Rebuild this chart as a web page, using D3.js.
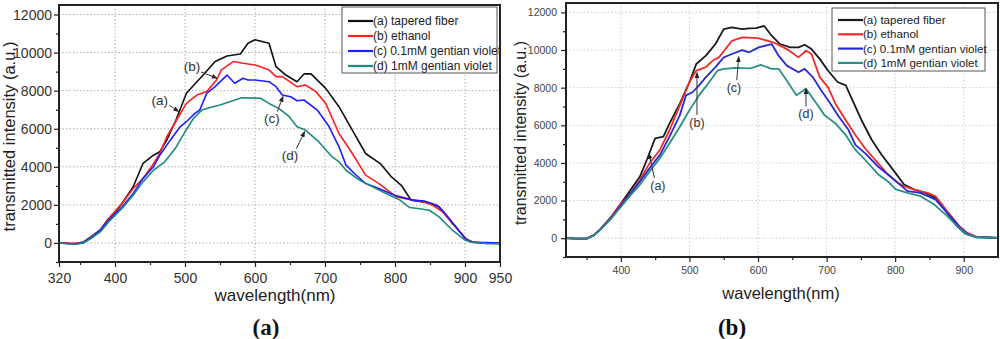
<!DOCTYPE html>
<html>
<head>
<meta charset="utf-8">
<script src="https://cdn.jsdelivr.net/npm/d3@7"></script>
<style>
  body { margin: 0; background: #fff; }
</style>
</head>
<body>
<script>
// ---- data, [wavelength nm, intensity a.u.] ----
const leftTapered = [[320,0],[335,-30],[345,-30],[355,50],[365,300],[379,680],[390,1250],[396,1400],[410,2070],[426,2950],[440,4175],[455,4610],[464,4790],[474,5400],[488,6540],[502,7860],[517,8470],[526,8820],[543,9530],[560,9820],[579,9930],[590,10490],[600,10670],[610,10580],[620,10490],[630,9260],[644,8820],[660,8470],[670,8880],[680,8880],[701,8120],[720,7160],[739,5930],[758,4700],[779,4170],[795,3470],[809,3030],[823,2250],[840,2160],[863,1900],[882,1020],[901,230],[910,50],[925,0],[950,-30]];
const leftEthanol = [[320,0],[335,-20],[345,-20],[355,40],[365,280],[379,670],[393,1370],[410,2070],[426,2860],[440,3390],[452,4000],[464,4700],[474,5580],[488,6460],[502,7330],[517,7770],[531,7950],[545,8560],[552,9090],[569,9530],[583,9440],[600,9350],[610,9230],[620,9090],[630,8740],[639,8740],[660,8210],[672,8300],[687,7950],[701,7330],[720,5750],[739,4700],[758,3560],[777,3120],[802,2420],[826,2250],[842,2160],[854,1980],[868,1630],[887,840],[901,230],[910,50],[930,-20],[950,-30]];
const leftViolet01 = [[320,0],[335,-30],[345,-40],[355,30],[365,260],[379,670],[393,1280],[410,1890],[426,2600],[440,3390],[455,4000],[464,4610],[479,5400],[493,6100],[502,6370],[514,6810],[521,6980],[531,7860],[543,8210],[560,8820],[571,8390],[583,8650],[590,8560],[600,8560],[620,8470],[630,8210],[639,7770],[651,7680],[660,7470],[670,7510],[689,6980],[706,6100],[720,5050],[730,4090],[742,3650],[758,3120],[777,2860],[799,2510],[826,2250],[842,2200],[859,2000],[868,1700],[887,850],[901,200],[912,30],[930,20],[950,0]];
const leftViolet1 = [[320,0],[335,-50],[345,-60],[355,0],[365,220],[379,580],[393,1190],[410,1810],[426,2510],[440,3210],[455,3820],[471,4260],[486,4960],[500,5840],[512,6540],[524,6980],[536,7120],[550,7250],[564,7420],[581,7630],[608,7600],[620,7330],[634,7070],[649,6630],[660,6100],[672,5930],[691,5320],[710,4530],[720,4260],[730,3820],[749,3300],[768,2950],[787,2600],[807,2250],[821,1860],[835,1800],[849,1720],[863,1370],[882,670],[899,175],[908,50],[930,-30],[950,-40]];

const rightTapered = [[320,0],[335,-20],[350,-20],[360,150],[370,470],[385,1090],[399,1790],[413,2500],[428,3290],[438,4170],[450,5310],[462,5400],[471,6100],[486,7150],[500,8300],[510,9260],[524,9700],[538,10320],[550,11110],[562,11200],[577,11110],[587,11150],[597,11160],[609,11280],[620,10760],[632,10320],[647,10140],[659,10140],[668,10280],[678,10050],[690,9530],[702,8910],[716,8300],[728,8120],[740,7150],[751,6270],[766,5220],[780,4450],[799,3540],[813,2850],[828,2580],[842,2440],[859,2140],[876,1350],[890,640],[902,250],[917,70],[950,20]];
const rightEthanol = [[320,0],[335,-20],[350,-20],[360,150],[370,470],[385,1090],[399,1790],[413,2320],[428,3110],[442,3990],[457,4690],[471,5750],[486,7060],[500,8300],[510,8910],[524,9090],[534,9440],[543,9610],[562,10490],[577,10670],[600,10630],[623,10400],[642,10050],[659,9610],[670,9960],[678,9790],[690,8560],[702,8030],[713,7150],[728,6270],[742,5480],[756,4780],[775,3990],[790,3370],[804,2940],[813,2760],[828,2580],[847,2410],[859,2230],[876,1430],[893,670],[905,280],[919,70],[950,20]];
const rightViolet01 = [[320,0],[335,-20],[350,-20],[360,140],[370,470],[385,1040],[399,1700],[413,2320],[428,3020],[442,3730],[457,4430],[471,5400],[486,6540],[495,7590],[505,7770],[514,8120],[524,8560],[538,9090],[550,9610],[562,9790],[577,10000],[587,9880],[601,10140],[620,10320],[630,9700],[642,9170],[659,8820],[668,9000],[680,8560],[692,7860],[704,7240],[718,6450],[732,5750],[742,4960],[756,4520],[775,3810],[790,3370],[804,2940],[818,2500],[837,2410],[859,2050],[876,1350],[895,550],[907,190],[919,50],[950,20]];
const rightViolet1 = [[320,0],[335,-20],[350,-20],[360,130],[370,440],[385,1000],[399,1620],[413,2230],[428,2850],[442,3550],[457,4250],[471,5040],[486,5920],[500,6800],[514,7590],[529,8300],[541,8910],[550,9000],[567,9050],[589,9030],[604,9210],[620,9000],[630,9000],[642,8380],[656,7590],[670,7940],[682,7330],[697,6540],[713,6100],[728,5480],[742,4690],[756,4170],[775,3400],[790,3000],[801,2600],[818,2410],[837,2230],[857,1790],[876,1170],[893,550],[905,195],[919,50],[950,20]];

const seriesNames = ["(a) tapered fiber", "(b) ethanol", "(c) 0.1mM gentian violet", "(d) 1mM gentian violet"];
const leftXTicks = [320, 400, 500, 600, 700, 800, 900, 950];
const rightXTicks = [400, 500, 600, 700, 800, 900];
const minorXTicks = [350, 450, 550, 650, 750, 850];
const gridXTicks = [400, 500, 600, 700, 800, 900];
const yTicks = [0, 2000, 4000, 6000, 8000, 10000, 12000];
const minorYTicks = [-1000, 1000, 3000, 5000, 7000, 9000, 11000];
const xTitle = "wavelength(nm)";
const yTitle = "transmitted intensity (a.u.)";

// arrow notes: label position, arrow start, arrow tip (data coords)
const leftNotes = [
  { label: "(a)", at: [464, 7490], from: [478, 7230], to: [491, 6900] },
  { label: "(b)", at: [510, 9280], from: [523, 8980], to: [546, 8650] },
  { label: "(c)", at: [624, 6550], from: [632, 6900], to: [640, 7700] },
  { label: "(d)", at: [650, 4610], from: [659, 4950], to: [671, 5850] },
];
const rightNotes = [
  { label: "(a)", at: [454, 2820], from: [449, 3200], to: [441, 4500] },
  { label: "(b)", at: [511, 6150], from: [511, 6550], to: [511, 8800] },
  { label: "(c)", at: [565, 8000], from: [569, 8400], to: [572, 9650] },
  { label: "(d)", at: [670, 6630], from: [670, 7000], to: [670, 7950] },
];

const FONT = "'Liberation Sans', Arial, sans-serif";

const svg = d3.select("body").append("svg")
  .attr("width", 1000)
  .attr("height", 339)
  .style("display", "block");

const defs = svg.append("defs");
defs.append("marker")
  .attr("id", "head")
  .attr("viewBox", "0 0 10 10")
  .attr("refX", 9).attr("refY", 5)
  .attr("markerWidth", 6).attr("markerHeight", 6)
  .attr("markerUnits", "userSpaceOnUse")
  .attr("orient", "auto")
  .append("path").attr("d", "M0,1L10,5L0,9Z").attr("fill", "#222");

const drawPanel = (p) => {
  const x = d3.scaleLinear().domain([320, 950]).range([p.left, p.right]);
  const y = d3.scaleLinear().domain([-1000, 12500]).range([p.bottom, p.top]);
  const g = svg.append("g");

  defs.append("clipPath").attr("id", p.id + "-clip")
    .append("rect")
    .attr("x", p.left).attr("y", p.top)
    .attr("width", p.right - p.left).attr("height", p.bottom - p.top);

  // dotted grid
  g.append("g").selectAll("line").data(gridXTicks).join("line")
    .attr("x1", (d) => x(d)).attr("x2", (d) => x(d))
    .attr("y1", p.top).attr("y2", p.bottom)
    .attr("stroke", p.gridColor).attr("stroke-dasharray", "1.5,2");
  g.append("g").selectAll("line").data(yTicks).join("line")
    .attr("x1", p.left).attr("x2", p.right)
    .attr("y1", (d) => y(d)).attr("y2", (d) => y(d))
    .attr("stroke", p.gridColor).attr("stroke-dasharray", "1.5,2");

  // axes
  const xAxis = g.append("g")
    .attr("transform", `translate(0,${p.bottom})`)
    .call(d3.axisBottom(x).tickValues(p.xTicks).tickSize(5).tickSizeOuter(0).tickFormat(d3.format("d")));
  g.append("g")
    .attr("transform", `translate(0,${p.bottom})`)
    .call(d3.axisBottom(x).tickValues(minorXTicks).tickSize(3).tickFormat("").tickSizeOuter(0));
  const yAxis = g.append("g")
    .attr("transform", `translate(${p.left},0)`)
    .call(d3.axisLeft(y).tickValues(yTicks).tickSize(5).tickSizeOuter(0).tickFormat(d3.format("d")));
  g.append("g")
    .attr("transform", `translate(${p.left},0)`)
    .call(d3.axisLeft(y).tickValues(minorYTicks).tickSize(3).tickFormat("").tickSizeOuter(0));

  g.selectAll(".domain").remove();
  g.selectAll(".tick line").attr("stroke", "#222").attr("stroke-width", 1.2);
  xAxis.selectAll("text")
    .attr("y", p.xLabelOffset).attr("dy", null)
    .attr("font-family", FONT).attr("font-size", p.tickFont).attr("fill", p.tickColor);
  yAxis.selectAll("text")
    .attr("x", -p.yLabelOffset)
    .attr("font-family", FONT).attr("font-size", p.tickFont).attr("fill", p.tickColor);

  // series
  const line = d3.line().x((d) => x(d[0])).y((d) => y(d[1]));
  g.append("g").attr("clip-path", `url(#${p.id}-clip)`)
    .selectAll("path").data(p.series).join("path")
    .attr("d", line)
    .attr("fill", "none")
    .attr("stroke", (d, i) => p.colors[i])
    .attr("stroke-width", p.lineWidth)
    .attr("stroke-linejoin", "round");

  // frame
  g.append("rect")
    .attr("x", p.left).attr("y", p.top)
    .attr("width", p.right - p.left).attr("height", p.bottom - p.top)
    .attr("fill", "none").attr("stroke", "#222").attr("stroke-width", 2);

  // annotations
  const notes = g.append("g");
  notes.selectAll("line").data(p.notes).join("line")
    .attr("x1", (d) => x(d.from[0])).attr("y1", (d) => y(d.from[1]))
    .attr("x2", (d) => x(d.to[0])).attr("y2", (d) => y(d.to[1]))
    .attr("stroke", "#333").attr("stroke-width", 1)
    .attr("marker-end", "url(#head)");
  notes.selectAll("text").data(p.notes).join("text")
    .attr("x", (d) => x(d.at[0])).attr("y", (d) => y(d.at[1]))
    .attr("dy", "0.35em")
    .attr("text-anchor", "middle")
    .attr("font-family", FONT).attr("font-size", p.noteFont)
    .attr("fill", "#333")
    .text((d) => d.label);

  // legend
  const lg = g.append("g");
  lg.append("rect")
    .attr("x", p.legend.x).attr("y", p.legend.y)
    .attr("width", p.legend.w).attr("height", p.legend.h)
    .attr("fill", "#fff").attr("stroke", "#555").attr("stroke-width", 1);
  const rows = lg.selectAll("g").data(seriesNames).join("g")
    .attr("transform", (d, i) => `translate(${p.legend.x + 6},${p.legend.y + p.legend.first + i * p.legend.step})`);
  rows.append("line")
    .attr("x1", 0).attr("x2", 25)
    .attr("stroke", (d, i) => p.colors[i]).attr("stroke-width", 2.2);
  rows.append("text")
    .attr("x", 25).attr("dy", "0.35em")
    .attr("font-family", FONT).attr("font-size", p.legendFont).attr("fill", "#222")
    .text((d) => d);

  // axis titles
  g.append("text")
    .attr("transform", `translate(${p.yTitleX},${(p.top + p.bottom) / 2 + 3}) rotate(-90)`)
    .attr("text-anchor", "middle")
    .attr("font-family", FONT).attr("font-size", p.yTitleFont).attr("fill", "#222")
    .text(yTitle);
  g.append("text")
    .attr("x", p.xTitleX).attr("y", p.xTitleY)
    .attr("text-anchor", "middle")
    .attr("font-family", FONT).attr("font-size", p.xTitleFont).attr("fill", "#222")
    .text(xTitle);

  // panel tag
  g.append("text")
    .attr("x", p.tagX).attr("y", 335)
    .attr("text-anchor", "middle")
    .attr("font-family", "'Liberation Serif', 'Times New Roman', serif")
    .attr("font-weight", "bold").attr("font-size", 23).attr("fill", "#111")
    .text(p.tag);
};

drawPanel({
  id: "left", left: 59, right: 500, top: 5, bottom: 262,
  series: [leftTapered, leftEthanol, leftViolet01, leftViolet1],
  colors: ["#111111", "#ff1f1f", "#1f1fff", "#1f8a7e"],
  lineWidth: 1.6, gridColor: "#b0b0b0",
  xTicks: leftXTicks, xLabelOffset: 21, yLabelOffset: 7,
  tickFont: 14, tickColor: "#333",
  notes: leftNotes, noteFont: 13.5,
  legend: { x: 342, y: 7, w: 155, h: 66, first: 14, step: 15 },
  legendFont: 12,
  yTitleX: 15, yTitleFont: 16.5,
  xTitleX: 275, xTitleY: 301, xTitleFont: 17,
  tagX: 266, tag: "(a)",
});

drawPanel({
  id: "right", left: 566, right: 998, top: 3, bottom: 257,
  series: [rightTapered, rightEthanol, rightViolet01, rightViolet1],
  colors: ["#1a1a1a", "#f02a2a", "#2a2ad2", "#2a9086"],
  lineWidth: 1.8, gridColor: "#cfcfd8",
  xTicks: rightXTicks, xLabelOffset: 17, yLabelOffset: 9,
  tickFont: 10.5, tickColor: "#444",
  notes: rightNotes, noteFont: 12.5,
  legend: { x: 832, y: 8, w: 153, h: 63, first: 12, step: 14.3 },
  legendFont: 11.6,
  yTitleX: 526, yTitleFont: 16,
  xTitleX: 781, xTitleY: 299, xTitleFont: 16.5,
  tagX: 732, tag: "(b)",
});
</script>
</body>
</html>
